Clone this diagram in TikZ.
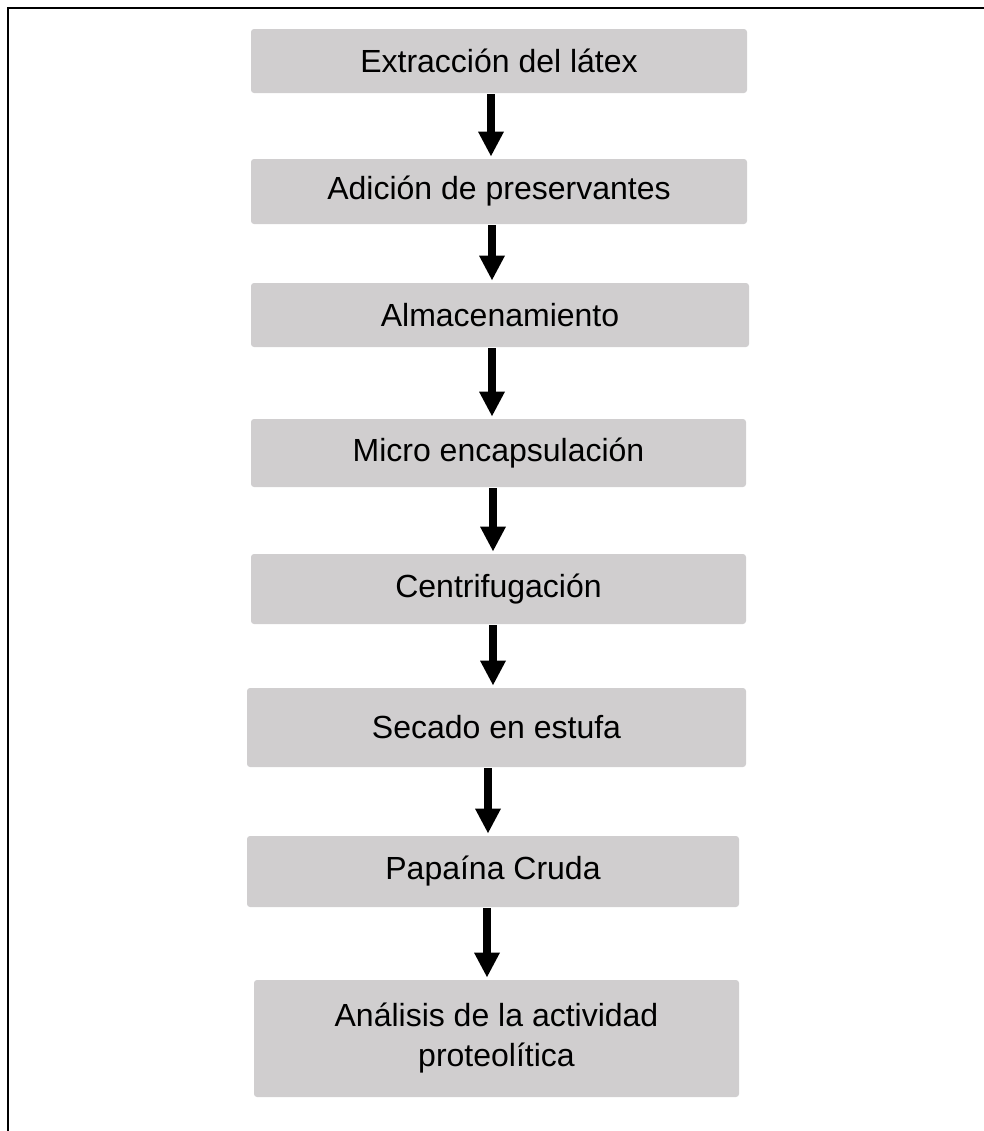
\documentclass[tikz,border=0pt]{standalone}
\usepackage{fontspec}
\setmainfont{Liberation Sans}
\usepackage{xcolor}
\usepackage{tikz}
\usetikzlibrary{arrows.meta}
\definecolor{CajaGris}{HTML}{D0CECF}

\begin{document}
\begin{tikzpicture}[x={(0.5pt,0pt)}, y={(0pt,-0.5pt)},
  every node/.style={align=center, font=\fontsize{16}{20}\selectfont},
  pbox/.style={fill=CajaGris, rounded corners=1.5pt, inner sep=0pt,
               minimum width=248pt, minimum height=32pt},
  flecha/.style={line width=3.75pt, -{Triangle[width=12pt, length=12.5pt]},
                 shorten <=0.5pt, shorten >=1pt}]
\useasboundingbox (0,0) rectangle (984,1131);
\draw[line width=1pt] (7.5,1131) -- (7.5,7.5) -- (984,7.5);
\node[pbox] (ext) at (499,61) {Extracción del látex};
\node[pbox, minimum height=32.5pt] (adi) at (499,191.5) {Adición de preservantes};
\node[pbox, minimum width=249pt] (alm) at (500,315) {Almacenamiento};
\node[pbox, minimum width=247.5pt, minimum height=34pt] (mic) at (498.5,453) {Micro encapsulación};
\node[pbox, minimum width=247.5pt, minimum height=35pt] (cen) at (498.5,589) {Centrifugación};
\node[pbox, minimum width=249.5pt, minimum height=39.5pt] (sec) at (496.5,727.5) {Secado en estufa};
\node[pbox, minimum width=246pt, minimum height=35.5pt] (pap) at (493,871.5) {Papaína Cruda};
\node[pbox, minimum width=242.5pt, minimum height=58.5pt] (ana) at (496.5,1038.5) {Análisis de la actividad\\proteolítica};
\draw[flecha] ([xshift=-4pt]ext.south) -- ([xshift=-4pt]ext.south |- adi.north);
\draw[flecha] ([xshift=-3.5pt]adi.south) -- ([xshift=-3.5pt]adi.south |- alm.north);
\draw[flecha] ([xshift=-4pt]alm.south) -- ([xshift=-4pt]alm.south |- mic.north);
\draw[flecha] ([xshift=-2.75pt]mic.south) -- ([xshift=-2.75pt]mic.south |- cen.north);
\draw[flecha] ([xshift=-2.75pt]cen.south) -- ([xshift=-2.75pt]cen.south |- sec.north);
\draw[flecha] ([xshift=-4.25pt]sec.south) -- ([xshift=-4.25pt]sec.south |- pap.north);
\draw[flecha] ([xshift=-3pt]pap.south) -- ([xshift=-3pt]pap.south |- ana.north);
\end{tikzpicture}
\end{document}
